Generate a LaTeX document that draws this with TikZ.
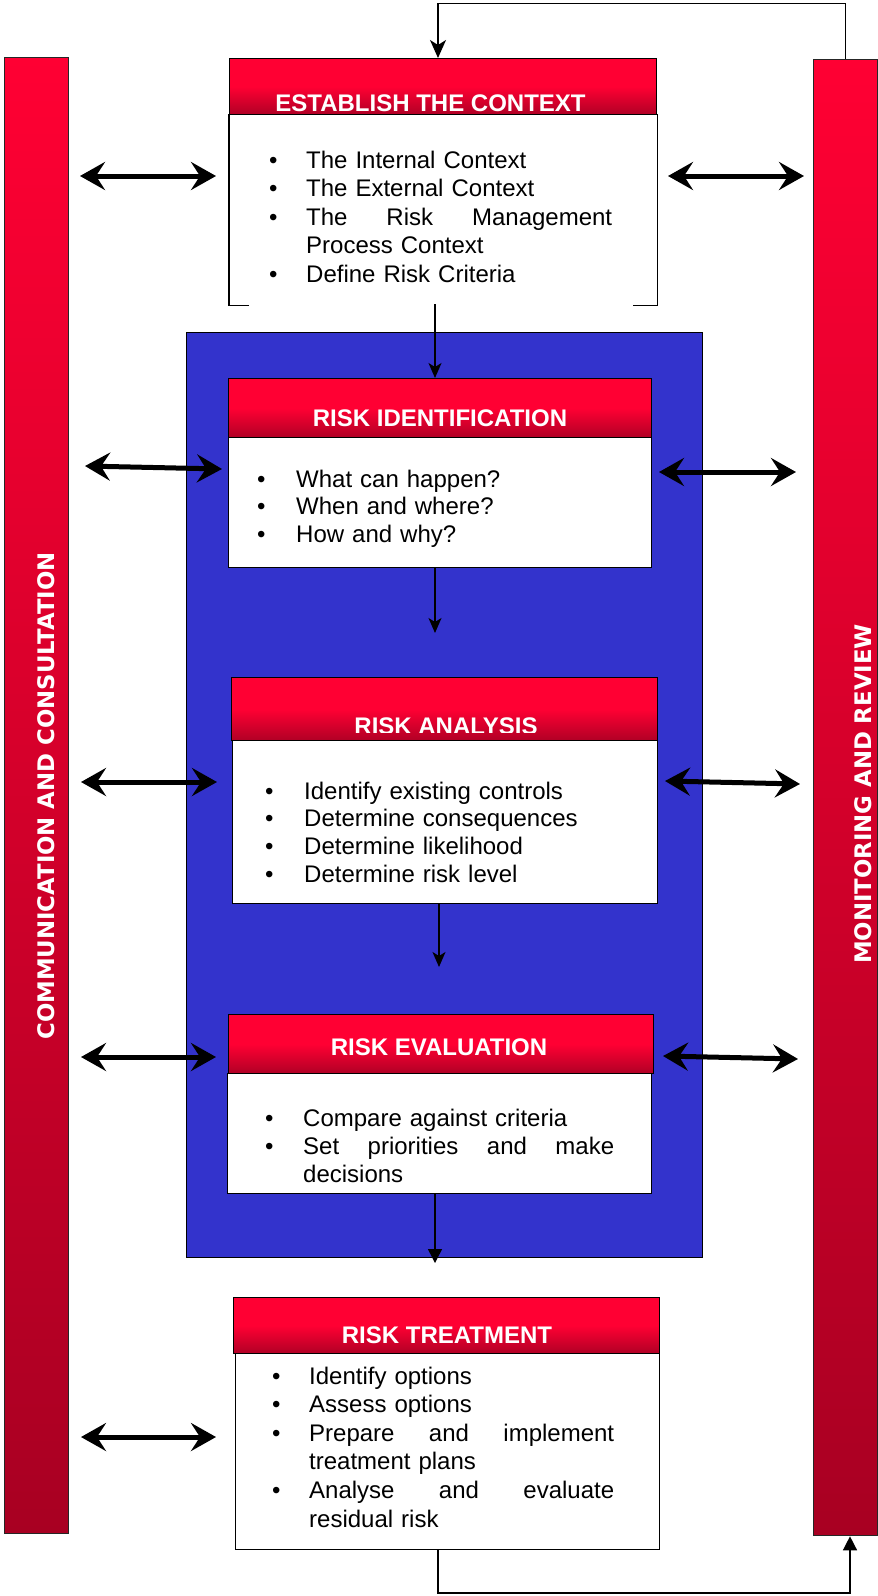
\documentclass[tikz,border=0pt]{standalone}
\usepackage{fontspec}
\setmainfont{Liberation Sans}
\newfontfamily\barfont{DejaVu Sans}
\usetikzlibrary{arrows.meta}

\definecolor{rTop}{HTML}{FF0033}
\definecolor{rBot}{HTML}{A80022}
\definecolor{hBot}{HTML}{B00025}
\definecolor{panel}{HTML}{3333CC}

% bullet line: #1 = indent of the text (pt), #2 = text
\newcommand\bl[2]{\makebox[#1pt][l]{\textbullet}#2}
% continuation line of a bullet
\newcommand\cl[2]{\hspace*{#1pt}#2}
% justified line of width #1 (words separated by \hfill)
\newcommand\jl[2]{\makebox[#1pt][l]{#2}}

\begin{document}
\begin{tikzpicture}[x=1pt,y=-1pt,
  bar/.style={draw=black!85, line width=1.3pt, top color=rTop, bottom color=rBot,
    inner sep=0, anchor=north west},
  hdr/.style={draw=black, line width=1.3pt, top color=rTop, bottom color=hBot,
    middle color=rTop, inner sep=0, anchor=north west},
  bodybox/.style={draw=black, line width=1.3pt, fill=white, inner sep=0, anchor=north west},
  htext/.style={text=white, font=\fontsize{24}{28}\selectfont\bfseries, anchor=base, inner sep=0},
  bartext/.style={text=white, font=\barfont\bfseries\fontsize{22.8}{26}\selectfont,
    rotate=90, inner sep=0},
  btext/.style={anchor=base west, inner sep=0, align=left, text width=380pt},
  flow/.style={line width=1.4pt, -{Stealth[length=15pt,width=13pt,inset=4pt]}},
  flowt/.style={line width=1.4pt, -{Triangle[length=14pt,width=14pt]}},
  dbl/.style={line width=5pt,
    {Stealth[length=25pt,width=28pt,inset=9pt]}-{Stealth[length=25pt,width=28pt,inset=9pt]}},
]
\useasboundingbox (0,0) rectangle (878,1596);

% side bars
\node[bar, minimum width=64pt, minimum height=1476pt] (lbar) at (4,57) {};
\node[bar, minimum width=64pt, minimum height=1476pt] (rbar) at (813,59) {};
\node[bartext] (ltxt) at (46.5,796) {COMMUNICATION AND CONSULTATION};
\node[bartext] (rtxt) at (863.5,794) {MONITORING AND REVIEW};

% blue assessment panel
\node[draw=black, line width=1.3pt, fill=panel, inner sep=0, anchor=north west,
  minimum width=516pt, minimum height=925pt] (panel) at (186,332) {};

% establish the context
\node[hdr, minimum width=427pt, minimum height=56pt] (ehd) at (229,58) {};
\node[htext] (eht) at (430.5,111) {ESTABLISH THE CONTEXT};
\node[bodybox, draw=none, minimum width=427pt, minimum height=190pt] (ebd) at (229,114) {};
\draw[line width=1.3pt] ([xshift=20pt]ebd.south west) -- (ebd.south west) -- (ebd.north west);
\draw[line width=1.3pt] (ebd.north east) -- (ebd.south east) -- ([xshift=-24pt]ebd.south east);
\node[btext, font=\fontsize{24}{28.5}\selectfont] (ebt) at (269,168) {%
  \bl{37}{The Internal Context}\\
  \bl{37}{The External Context}\\
  \bl{37}{\jl{306}{The\hfill Risk\hfill Management}}\\
  \cl{37}{Process Context}\\
  \bl{37}{Define Risk Criteria}};

% risk identification
\node[hdr, minimum width=423pt, minimum height=59pt] (ihd) at (228,378) {};
\node[htext] (iht) at (440,426) {RISK IDENTIFICATION};
\node[bodybox, minimum width=423pt, minimum height=130pt] (ibd) at (228,437) {};
\node[btext, font=\fontsize{24}{27.5}\selectfont] (ibt) at (257,487) {%
  \bl{39}{What can happen?}\\
  \bl{39}{When and where?}\\
  \bl{39}{How and why?}};

% risk analysis (title sits in an inner frame that trims its foot)
\node[hdr, minimum width=426pt, minimum height=63pt] (ahd) at (231,677) {};
\begin{scope}
  \clip (ahd.north west) rectangle (657,732.5);
  \node[htext] (aht) at (446,734.5) {RISK ANALYSIS};
\end{scope}
\node[bodybox, minimum width=425pt, minimum height=163pt] (abd) at (232,740) {};
\node[btext, font=\fontsize{24}{27.7}\selectfont] (abt) at (265,799) {%
  \bl{39}{Identify existing controls}\\
  \bl{39}{Determine consequences}\\
  \bl{39}{Determine likelihood}\\
  \bl{39}{Determine risk level}};

% risk evaluation
\node[hdr, minimum width=425pt, minimum height=59pt] (vhd) at (228,1014) {};
\node[htext] (vht) at (439,1055) {RISK EVALUATION};
\node[bodybox, minimum width=424pt, minimum height=120pt] (vbd) at (227,1073) {};
\node[btext, font=\fontsize{24}{28}\selectfont] (vbt) at (265,1126) {%
  \bl{38}{Compare against criteria}\\
  \bl{38}{\jl{311}{Set\hfill priorities\hfill and\hfill make}}\\
  \cl{38}{decisions}};

% risk treatment
\node[hdr, minimum width=426pt, minimum height=56pt] (thd) at (233,1297) {};
\node[htext] (tht) at (447,1343) {RISK TREATMENT};
\node[bodybox, minimum width=424pt, minimum height=196pt] (tbd) at (235,1353) {};
\node[btext, font=\fontsize{24}{28.6}\selectfont] (tbt) at (272,1384) {%
  \bl{37}{Identify options}\\
  \bl{37}{Assess options}\\
  \bl{37}{\jl{305}{Prepare\hfill and\hfill implement}}\\
  \cl{37}{treatment plans}\\
  \bl{37}{\jl{305}{Analyse\hfill and\hfill evaluate}}\\
  \cl{37}{residual risk}};

% process flow
\coordinate (tc) at (438,3.5);
\coordinate (x1) at (435,0);
\coordinate (i2) at (435,633);
\coordinate (a2) at (439,967);
\coordinate (v2) at (435,1263);
\coordinate (bc) at (850,1593);
\coordinate (tx) at (438,0);
\coordinate (ax) at (439,0);

\draw[line width=1.4pt, -{Stealth[length=18pt,width=16pt,inset=5pt]}]
  (rbar.north) |- (tc) -- (tc |- ehd.north);
\draw[flow] ([yshift=1pt]ebd.south -| x1) -- (ihd.north -| x1);
\draw[flow] (ibd.south -| x1) -- (i2);
\draw[flow] (abd.south -| ax) -- (a2);
\draw[flowt] (vbd.south -| x1) -- (v2);
\draw[flowt] (tbd.south -| tx) |- (bc) -- (bc |- rbar.south);

% communication arrows (left)
\coordinate (l1a) at (80,176);   \coordinate (l1b) at (216,176);
\coordinate (l2a) at (85,466);   \coordinate (l2b) at (222,469);
\coordinate (l3a) at (81,782);   \coordinate (l3b) at (217,782);
\coordinate (l4a) at (81,1057);  \coordinate (l4b) at (216,1057);
\coordinate (l5a) at (81,1437);  \coordinate (l5b) at (216,1437);
% monitoring arrows (right)
\coordinate (r1a) at (668,176);  \coordinate (r1b) at (804,176);
\coordinate (r2a) at (659,472);  \coordinate (r2b) at (796,472);
\coordinate (r3a) at (665,781);  \coordinate (r3b) at (800,784);
\coordinate (r4a) at (663,1056); \coordinate (r4b) at (798,1059);

\foreach \p in {l1,l2,l3,l4,l5,r1,r2,r3,r4}
  \draw[dbl] (\p a) -- (\p b);
\end{tikzpicture}
\end{document}
